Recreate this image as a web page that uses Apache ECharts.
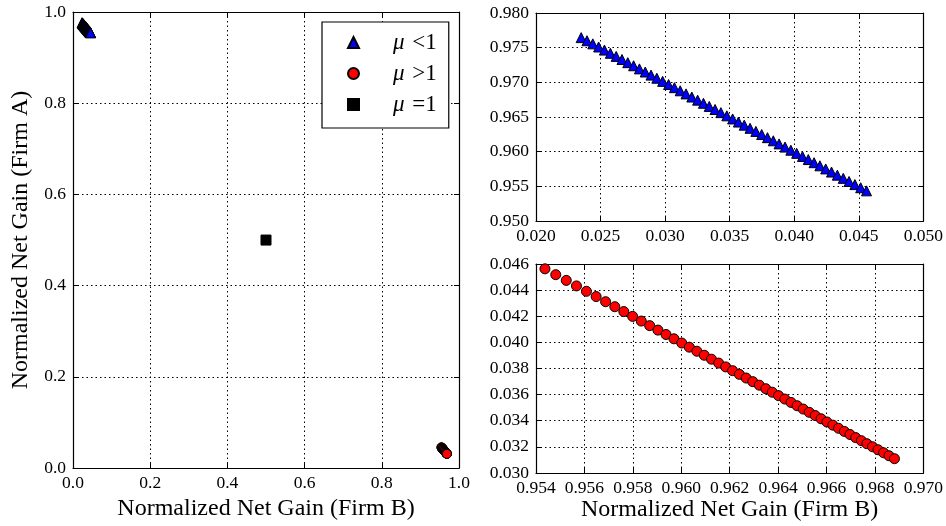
<!DOCTYPE html>
<html><head><meta charset="utf-8">
<script src="https://cdn.jsdelivr.net/npm/echarts@6/dist/echarts.min.js"></script>
<style>html,body{margin:0;padding:0;background:#fff}#c{width:946px;height:526px}</style>
</head><body><div id="c"></div><script>
// mu < 1 (blue triangles)
const lessX = [0.02350,0.02395,0.02440,0.02485,0.02530,0.02576,0.02621,0.02666,0.02711,0.02756,
  0.02801,0.02846,0.02891,0.02936,0.02981,0.03027,0.03072,0.03117,0.03162,0.03207,
  0.03252,0.03297,0.03342,0.03387,0.03432,0.03478,0.03523,0.03568,0.03613,0.03658,
  0.03703,0.03748,0.03793,0.03838,0.03883,0.03929,0.03974,0.04019,0.04064,0.04109,
  0.04154,0.04199,0.04244,0.04289,0.04334,0.04380,0.04425,0.04470,0.04515,0.04560];
const lessY = [0.97645,0.97600,0.97555,0.97510,0.97465,0.97419,0.97374,0.97329,0.97284,0.97239,
  0.97194,0.97149,0.97104,0.97059,0.97014,0.96968,0.96923,0.96878,0.96833,0.96788,
  0.96743,0.96698,0.96653,0.96608,0.96563,0.96517,0.96472,0.96427,0.96382,0.96337,
  0.96292,0.96247,0.96202,0.96157,0.96112,0.96066,0.96021,0.95976,0.95931,0.95886,
  0.95841,0.95796,0.95751,0.95706,0.95661,0.95615,0.95570,0.95525,0.95480,0.95435];
// mu > 1 (red circles)
const moreX = [0.954370,0.954816,0.955250,0.955672,0.956083,0.956484,0.956875,0.957256,0.957628,0.957992,
  0.958348,0.958696,0.959037,0.959371,0.959699,0.960020,0.960335,0.960645,0.960950,0.961250,
  0.961545,0.961835,0.962121,0.962403,0.962681,0.962955,0.963226,0.963494,0.963758,0.964019,
  0.964278,0.964534,0.964787,0.965038,0.965287,0.965533,0.965777,0.966019,0.966260,0.966499,
  0.966736,0.966972,0.967206,0.967439,0.967670,0.967900,0.968129,0.968357,0.968583,0.968808];
const moreY = [0.045630,0.045182,0.044746,0.044322,0.043909,0.043506,0.043113,0.042730,0.042356,0.041990,
  0.041632,0.041282,0.040939,0.040603,0.040273,0.039950,0.039633,0.039321,0.039014,0.038712,
  0.038415,0.038123,0.037835,0.037551,0.037271,0.036995,0.036722,0.036452,0.036186,0.035923,
  0.035662,0.035404,0.035149,0.034896,0.034645,0.034397,0.034151,0.033907,0.033664,0.033423,
  0.033184,0.032946,0.032710,0.032475,0.032242,0.032010,0.031779,0.031549,0.031321,0.031094];
// mu = 1 (black square)
const equalX = [0.5];
const equalY = [0.5];

// tick labels
const mainTicks = [0.0, 0.2, 0.4, 0.6, 0.8, 1.0];
const topXTicks = [0.020, 0.025, 0.030, 0.035, 0.040, 0.045, 0.050];
const topYTicks = [0.950, 0.955, 0.960, 0.965, 0.970, 0.975, 0.980];
const botXTicks = [0.954, 0.956, 0.958, 0.960, 0.962, 0.964, 0.966, 0.968, 0.970];
const botYTicks = [0.030, 0.032, 0.034, 0.036, 0.038, 0.040, 0.042, 0.044, 0.046];

const seriesNames = ['μ <1', 'μ >1', 'μ =1'];
const xTitle = 'Normalized Net Gain (Firm B)';
const yTitle = 'Normalized Net Gain (Firm A)';

const FONT = 'Liberation Serif';
const pair = (xs, ys) => xs.map((x, i) => [x, ys[i]]);

function range(t) {
  return { min: t[0], max: t[t.length - 1], interval: (t[t.length - 1] - t[0]) / (t.length - 1) };
}
function fmt(t, dec) {
  return v => {
    let best = t[0];
    t.forEach(s => { if (Math.abs(s - v) < Math.abs(best - v)) best = s; });
    return best.toFixed(dec);
  };
}
const xAxes = [], yAxes = [];
function addAxes(gi, xt, xdec, yt, ydec, xname, yname) {
  const xr = range(xt), yr = range(yt);
  const base = {
    gridIndex: gi, type: 'value',
    axisLine: { show: true, onZero: false, lineStyle: { color: '#000', width: 1.2 } },
    axisTick: { show: true, inside: true, length: 5, lineStyle: { color: '#000', width: 1 } },
  };
  xAxes.push(Object.assign({}, base, xr, {
    position: 'bottom',
    name: xname || '', nameLocation: 'middle', nameGap: 20,
    nameTextStyle: { fontFamily: FONT, fontSize: 24, color: '#000' },
    axisLabel: { show: true, margin: 6, fontFamily: FONT, fontSize: 17.5, color: '#000', formatter: fmt(xt, xdec) },
    splitLine: { show: true, lineStyle: { color: '#000', type: [1.5, 3], width: 1 } }
  }));
  xAxes.push(Object.assign({}, base, xr, {
    position: 'top', axisLabel: { show: false }, splitLine: { show: false }
  }));
  yAxes.push(Object.assign({}, base, yr, {
    position: 'left',
    name: yname || '', nameLocation: 'middle', nameGap: 40,
    nameTextStyle: { fontFamily: FONT, fontSize: 24, color: '#000' },
    axisLabel: { show: true, margin: 7, fontFamily: FONT, fontSize: 17.5, color: '#000', formatter: fmt(yt, ydec) },
    splitLine: { show: true, lineStyle: { color: '#000', type: [1.5, 3], width: 1 } }
  }));
  yAxes.push(Object.assign({}, base, yr, {
    position: 'right', axisLabel: { show: false }, splitLine: { show: false }
  }));
}
addAxes(0, mainTicks, 1, mainTicks, 1, xTitle, yTitle);
addAxes(1, topXTicks, 3, topYTicks, 3, '', '');
addAxes(2, botXTicks, 3, botYTicks, 3, xTitle, '');

const border = { borderColor: '#000', borderWidth: 1 };
function sc(name, data, xi, yi, symbol, size, color) {
  return {
    type: 'scatter', name, data, xAxisIndex: xi, yAxisIndex: yi,
    symbol, symbolSize: size, itemStyle: Object.assign({ color, opacity: 1 }, border),
    emphasis: { disabled: true }, silent: true
  };
}

const chart = echarts.init(document.getElementById('c'));
chart.setOption({
  animation: false,
  backgroundColor: '#fff',
  grid: [
    { left: 73, top: 12, width: 386, height: 463 },
    { left: 536, top: 13, width: 388, height: 208 },
    { left: 536, top: 264, width: 388, height: 209 }
  ],
  xAxis: xAxes,
  yAxis: yAxes,
  legend: {
    orient: 'vertical', left: 322, top: 22,
    padding: [9, 12, 12, 25],
    itemWidth: 11, itemHeight: 11, itemGap: 8,
    backgroundColor: '#fff', borderColor: '#000', borderWidth: 1.2, borderRadius: 0,
    data: seriesNames,
    formatter: n => '{m|μ}{o|' + n.slice(1) + '}',
    textStyle: {
      fontFamily: FONT, fontSize: 22, color: '#000',
      rich: {
        m: { fontFamily: FONT, fontSize: 23, fontStyle: 'italic', color: '#000', padding: [0, 2, 0, 29] },
        o: { fontFamily: FONT, fontSize: 23, color: '#000' }
      }
    },
    selectedMode: false
  },
  series: [
    sc(seriesNames[0], pair(lessX, lessY), 0, 0, 'triangle', 10, '#0000ff'),
    sc(seriesNames[1], pair(moreX, moreY), 0, 0, 'circle', 9, '#ff0000'),
    sc(seriesNames[2], pair(equalX, equalY), 0, 0, 'rect', 10, '#000000'),
    sc(seriesNames[0], pair(lessX, lessY), 2, 2, 'triangle', 10, '#0000ff'),
    sc(seriesNames[1], pair(moreX, moreY), 4, 4, 'circle', 10, '#ff0000')
  ]
});
</script></body></html>
